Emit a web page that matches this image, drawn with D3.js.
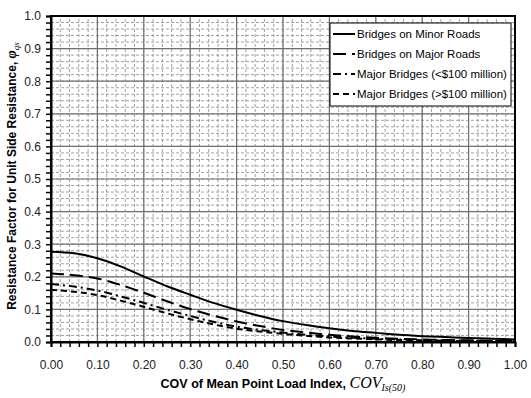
<!DOCTYPE html>
<html>
<head>
<meta charset="utf-8">
<script src="https://cdn.jsdelivr.net/npm/d3@7"></script>
<style>
  body { margin: 0; background: #fff; }
  svg { display: block; font-family: "Liberation Sans", Arial, sans-serif; }
</style>
</head>
<body>
<div id="chart"></div>
<script>
const width = 531;
const height = 398;

// COV values (x)
const covValues = [0, 0.05, 0.1, 0.15, 0.2, 0.25, 0.3, 0.35, 0.4, 0.45, 0.5, 0.55, 0.6, 0.65, 0.7, 0.75, 0.8, 0.85, 0.9, 0.95, 1.0];

const minorRoads = [0.277, 0.272, 0.257, 0.232, 0.201, 0.171, 0.145, 0.12, 0.099, 0.08, 0.064, 0.052, 0.042, 0.034, 0.028, 0.022, 0.018, 0.015, 0.012, 0.01, 0.008];
const majorRoads = [0.210, 0.205, 0.195, 0.175, 0.151, 0.125, 0.101, 0.081, 0.063, 0.049, 0.037, 0.029, 0.022, 0.017, 0.013, 0.010, 0.008, 0.006, 0.005, 0.004, 0.004];
const majorLess100 = [0.178, 0.17, 0.158, 0.14, 0.12, 0.099, 0.08, 0.062, 0.047, 0.037, 0.029, 0.022, 0.017, 0.013, 0.010, 0.008, 0.006, 0.005, 0.004, 0.003, 0.003];
const majorMore100 = [0.16, 0.154, 0.144, 0.127, 0.108, 0.088, 0.07, 0.054, 0.041, 0.032, 0.025, 0.019, 0.014, 0.011, 0.008, 0.006, 0.005, 0.004, 0.003, 0.003, 0.002];

const seriesNames = ["Bridges on Minor Roads", "Bridges on Major Roads", "Major Bridges (<$100 million)", "Major Bridges (>$100 million)"];
const dashes = [null, "13,6", "8,4,2,4", "6,4"];

const xTicks = d3.range(0, 1.0001, 0.1);
const yTicks = d3.range(0, 1.0001, 0.1);
const minorStep = 0.02;

const margin = { top: 16, right: 16, bottom: 56, left: 51 };

const svg = d3.select("#chart").append("svg")
  .attr("width", width)
  .attr("height", height);

const x = d3.scaleLinear().domain([0, 1]).range([margin.left, width - margin.right]);
const y = d3.scaleLinear().domain([0, 1]).range([height - margin.bottom, margin.top]);

const minorTicks = d3.range(0, 1.0001, minorStep);

// minor grid (dashed)
const grid = svg.append("g");
grid.selectAll(".mx").data(minorTicks).enter().append("line")
  .attr("x1", d => x(d)).attr("x2", d => x(d))
  .attr("y1", y(0)).attr("y2", y(1))
  .attr("stroke", "#8a8a8a").attr("stroke-width", 0.8).attr("stroke-dasharray", "3,2");
grid.selectAll(".my").data(minorTicks).enter().append("line")
  .attr("y1", d => y(d)).attr("y2", d => y(d))
  .attr("x1", x(0)).attr("x2", x(1))
  .attr("stroke", "#8a8a8a").attr("stroke-width", 0.8).attr("stroke-dasharray", "3,2");

// major grid
grid.selectAll(".Mx").data(xTicks).enter().append("line")
  .attr("x1", d => x(d)).attr("x2", d => x(d))
  .attr("y1", y(0)).attr("y2", y(1))
  .attr("stroke", "#707070").attr("stroke-width", 1.2);
grid.selectAll(".My").data(yTicks).enter().append("line")
  .attr("y1", d => y(d)).attr("y2", d => y(d))
  .attr("x1", x(0)).attr("x2", x(1))
  .attr("stroke", "#707070").attr("stroke-width", 1.2);

// axes
svg.append("g")
  .attr("transform", `translate(0,${y(0)})`)
  .call(d3.axisBottom(x).tickValues(minorTicks).tickSize(5).tickFormat(""));
svg.append("g")
  .attr("transform", `translate(0,${y(0)})`)
  .call(d3.axisBottom(x).tickValues(xTicks).tickSize(0).tickPadding(18).tickFormat(d3.format(".2f")))
  .call(g => g.select(".domain").remove())
  .selectAll("text").attr("font-size", 12).attr("fill", "#222")
  .attr("font-family", "Liberation Sans, Arial, sans-serif");

svg.append("g")
  .attr("transform", `translate(${x(0)},0)`)
  .call(d3.axisLeft(y).tickValues(minorTicks).tickSize(5).tickFormat(""));
svg.append("g")
  .attr("transform", `translate(${x(0)},0)`)
  .call(d3.axisLeft(y).tickValues(yTicks).tickSize(0).tickPadding(10).tickFormat(d3.format(".1f")))
  .call(g => g.select(".domain").remove())
  .selectAll("text").attr("font-size", 12).attr("fill", "#222")
  .attr("font-family", "Liberation Sans, Arial, sans-serif");

svg.selectAll(".tick line").attr("stroke-width", 1.5);
svg.selectAll(".domain").attr("stroke-width", 2);

// frame
svg.append("rect")
  .attr("x", x(0)).attr("y", y(1))
  .attr("width", x(1) - x(0)).attr("height", y(0) - y(1))
  .attr("fill", "none").attr("stroke", "#000").attr("stroke-width", 2);

// curves
const allSeries = [minorRoads, majorRoads, majorLess100, majorMore100];
const line = d3.line()
  .x((d, i) => x(covValues[i]))
  .y(d => y(d))
  .curve(d3.curveMonotoneX);

svg.append("g").selectAll("path").data(allSeries).enter().append("path")
  .attr("d", d => line(d))
  .attr("fill", "none")
  .attr("stroke", "#000")
  .attr("stroke-width", 2)
  .attr("stroke-dasharray", (d, i) => dashes[i]);

// legend
const legend = svg.append("g").attr("transform", "translate(330,23)");
legend.append("rect")
  .attr("width", 181).attr("height", 83)
  .attr("fill", "#fff").attr("stroke", "#000").attr("stroke-width", 1);
seriesNames.forEach((name, i) => {
  const ly = 11 + i * 20;
  legend.append("line")
    .attr("x1", 3).attr("x2", 25).attr("y1", ly).attr("y2", ly)
    .attr("stroke", "#000").attr("stroke-width", 2)
    .attr("stroke-dasharray", dashes[i]);
  legend.append("text")
    .attr("x", 27).attr("y", ly + 4)
    .attr("font-size", 11.5)
    .text(name);
});

// axis titles
const xt = svg.append("text")
  .attr("x", 283).attr("y", 388)
  .attr("text-anchor", "middle")
  .attr("font-size", 12.5).attr("font-weight", "bold");
xt.append("tspan").text("COV of Mean Point Load Index, ");
xt.append("tspan").text("COV")
  .attr("font-family", "Liberation Serif, Times New Roman, serif")
  .attr("font-style", "italic").attr("font-weight", "normal").attr("font-size", 16);
xt.append("tspan").text("Is(50)")
  .attr("font-family", "Liberation Serif, Times New Roman, serif")
  .attr("font-style", "italic").attr("font-weight", "normal").attr("font-size", 10)
  .attr("dy", 3);

const yt = svg.append("text")
  .attr("transform", "translate(16,176) rotate(-90)")
  .attr("text-anchor", "middle")
  .attr("font-size", 12).attr("font-weight", "bold");
yt.append("tspan").text("Resistance Factor for Unit Side Resistance, ");
yt.append("tspan").text("φ")
  .attr("font-family", "Liberation Serif, Times New Roman, serif")
  .attr("font-style", "italic").attr("font-size", 14);
yt.append("tspan").text("qs")
  .attr("font-family", "Liberation Serif, Times New Roman, serif")
  .attr("font-style", "italic").attr("font-weight", "normal").attr("font-size", 9)
  .attr("dy", 3);
</script>
</body>
</html>
